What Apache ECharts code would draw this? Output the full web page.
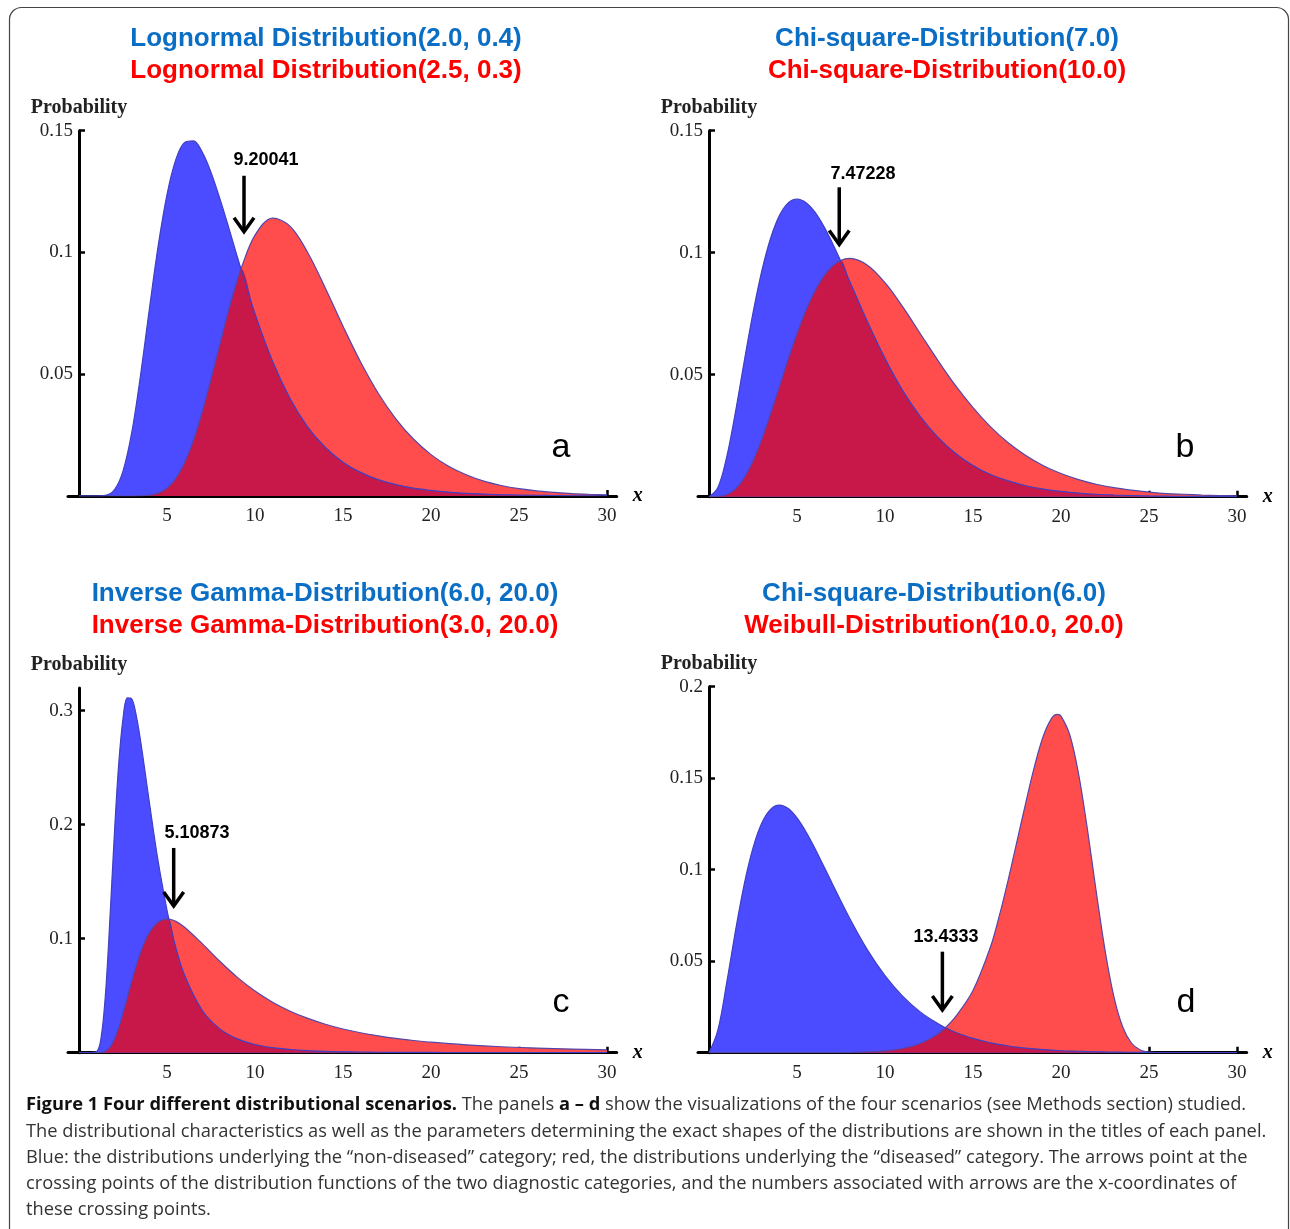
<!DOCTYPE html>
<html><head><meta charset="utf-8">
<script src="https://cdn.jsdelivr.net/npm/echarts@6/dist/echarts.min.js"></script>
<style>html,body{margin:0;padding:0;background:#fff}#c{width:1290px;height:1229px}</style>
</head><body><div id="c"></div>
<script>
// ---------- Panel a : Lognormal(2.0,0.4) vs Lognormal(2.5,0.3)
const xA = [0,0.5,1,1.5,2,2.5,3,3.5,4,4.5,5,5.5,6,6.5,7,7.5,8,8.5,9,9.2,10,11,12,13,14,15,16,17,18,19,20,21,22,23,24,25,26,27,28,29,30];
const blueA = [0,0,0.000004,0.00024,0.0024,0.0102,0.0262,0.0498,0.0769,0.1028,0.1238,0.1381,0.1452,0.1458,0.1412,0.1329,0.1222,0.1104,0.0981,0.0933,0.0749,0.0553,0.0399,0.0283,0.0199,0.0139,0.0097,0.0067,0.0047,0.0032,0.0023,0.0016,0.0011,0.0008,0.0005,0.0004,0.0003,0.0002,0.0001,0.0001,0.0001];
const redA = [0,0,0,0,0,0,0,0.0001,0.0003,0.0012,0.0032,0.0072,0.0137,0.0228,0.0345,0.0480,0.0622,0.0762,0.0888,0.0933,0.1071,0.1141,0.1107,0.0999,0.0853,0.0697,0.0550,0.0422,0.0317,0.0234,0.0170,0.0122,0.0087,0.0061,0.0043,0.0030,0.0021,0.0015,0.0010,0.0007,0.0005];
// ---------- Panel b : Chi-square(7) vs Chi-square(10)
const xB = [0,0.5,1,1.5,2,2.5,3,3.5,4,4.5,5,5.5,6,6.5,7,7.47,8,9,10,11,12,13,14,15,16,17,18,19,20,21,22,23,24,25,26,27,28,29,30];
const blueB = [0,0.0037,0.0161,0.0346,0.0554,0.0753,0.0925,0.1059,0.1152,0.1204,0.1220,0.1206,0.1168,0.1111,0.1041,0.0968,0.0882,0.0718,0.0567,0.0436,0.0329,0.0244,0.0178,0.0128,0.0091,0.0065,0.0045,0.0031,0.0022,0.0015,0.0010,0.0007,0.0005,0.0003,0.0002,0.0001,0.0001,0.0001,0];
const redB = [0,0.0001,0.0008,0.0031,0.0077,0.0146,0.0235,0.0340,0.0451,0.0563,0.0668,0.0762,0.0840,0.0901,0.0944,0.0968,0.0977,0.0949,0.0877,0.0779,0.0669,0.0559,0.0456,0.0365,0.0286,0.0221,0.0169,0.0127,0.0095,0.0070,0.0051,0.0037,0.0027,0.0019,0.0013,0.0010,0.0007,0.0005,0.0003];
// ---------- Panel c : Inverse Gamma(6,20) vs Inverse Gamma(3,20)
const xC = [0,0.5,1,1.25,1.5,1.75,2,2.25,2.5,2.75,3,3.25,3.5,3.75,4,4.5,5,5.11,5.5,6,7,8,9,10,11,12,13,14,15,16,17,18,19,20,22,24,26,28,30];
const blueC = [0,0,0.0011,0.0126,0.0505,0.1154,0.1891,0.2519,0.2931,0.3112,0.3103,0.2959,0.2734,0.2469,0.2193,0.1676,0.1250,0.1171,0.0923,0.0680,0.0372,0.0209,0.0121,0.0072,0.0044,0.0028,0.0018,0.0012,0.0008,0.0006,0.0004,0.0003,0.0002,0.0002,0.0001,0.0001,0,0,0];
const redC = [0,0,0,0.0002,0.0013,0.0046,0.0114,0.0215,0.0344,0.0485,0.0629,0.0762,0.0879,0.0977,0.1053,0.1146,0.1172,0.1171,0.1152,0.1101,0.0957,0.0802,0.0661,0.0541,0.0443,0.0364,0.0301,0.0250,0.0208,0.0175,0.0148,0.0125,0.0107,0.0092,0.0069,0.0052,0.0041,0.0032,0.0025];
// ---------- Panel d : Chi-square(6) vs Weibull(10,20)
const xD = [0,0.5,1,1.5,2,2.5,3,3.5,4,4.5,5,5.5,6,7,8,9,10,11,12,13,13.43,14,15,16,16.5,17,17.5,18,18.5,19,19.5,19.8,20,20.5,21,21.5,22,22.5,23,23.5,24,24.5,25,26,27,28,29,30];
const blueD = [0,0.0122,0.0379,0.0664,0.0920,0.1119,0.1255,0.1330,0.1353,0.1334,0.1283,0.1209,0.1120,0.0925,0.0733,0.0562,0.0421,0.0309,0.0223,0.0159,0.0137,0.0112,0.0078,0.0054,0.0045,0.0037,0.0030,0.0025,0.0021,0.0017,0.0014,0.0012,0.0011,0.0009,0.0008,0.0006,0.0005,0.0004,0.0003,0.0003,0.0002,0.0002,0.0001,0.0001,0.0001,0,0,0];
const redD = [0,0,0,0,0,0,0,0,0,0,0,0,0,0,0.0001,0.0004,0.0010,0.0023,0.0050,0.0102,0.0137,0.0196,0.0340,0.0580,0.0750,0.0945,0.1156,0.1367,0.1567,0.1732,0.1832,0.1849,0.1839,0.1736,0.1522,0.1221,0.0881,0.0561,0.0308,0.0142,0.0053,0.0015,0.0003,0,0,0,0,0];

// tick labels
const xTicks = [5,10,15,20,25,30];
const yTicksA = [0.05,0.1,0.15];
const yTicksB = [0.05,0.1,0.15];
const yTicksC = [0.1,0.2,0.3];
const yTicksD = [0.05,0.1,0.15,0.2];

// titles
const titlesBlue = ['Lognormal Distribution(2.0, 0.4)','Chi-square-Distribution(7.0)','Inverse Gamma-Distribution(6.0, 20.0)','Chi-square-Distribution(6.0)'];
const titlesRed = ['Lognormal Distribution(2.5, 0.3)','Chi-square-Distribution(10.0)','Inverse Gamma-Distribution(3.0, 20.0)','Weibull-Distribution(10.0, 20.0)'];
const panelLetters = ['a','b','c','d'];
// crossing labels and arrow positions [x, yTail, yTip, labelX, labelY]
const crossLabels = ['9.20041','7.47228','5.10873','13.4333'];
const arrowA = [9.375, 0.1315, 0.1085, 10.62, 0.138];
const arrowB = [7.40, 0.1268, 0.1034, 8.75, 0.1321];
const arrowC = [5.38, 0.1796, 0.1287, 6.70, 0.193];
const arrowD = [13.26, 0.0552, 0.0233, 13.47, 0.0634];

const BLUE = '#4b4bff', RED = '#ff4d4d', OVER = '#c8184a', EDGE = '#5646a6';
const panels = [
  {xs:xA, b:blueA, r:redA, ymax:0.15, yt:yTicksA, arrow:arrowA, grid:{left:68, top:130.7, width:548.7, height:365.3}, title:[326,39], letter:[561,447]},
  {xs:xB, b:blueB, r:redB, ymax:0.15, yt:yTicksB, arrow:arrowB, grid:{left:698, top:130.7, width:548.7, height:366}, title:[947,39], letter:[1185,447]},
  {xs:xC, b:blueC, r:redC, ymax:0.32, yt:yTicksC, arrow:arrowC, grid:{left:68, top:687.9, width:548.7, height:364.8}, title:[325,594], letter:[561,1002]},
  {xs:xD, b:blueD, r:redD, ymax:0.2, yt:yTicksD, arrow:arrowD, grid:{left:698, top:686.7, width:548.7, height:366}, title:[934,594], letter:[1186,1002]}
];

const serif = '"Liberation Serif","Times New Roman",serif';
const sans = '"Liberation Sans",Arial,sans-serif';
const grids = [], xAxes = [], yAxes = [], series = [], graphics = [];

panels.forEach((p, i) => {
  grids.push(p.grid);
  xAxes.push({
    gridIndex:i, type:'value', min:-0.625, max:30.55,
    axisLine:{show:true, onZero:true, lineStyle:{color:'#000', width:3}},
    axisTick:{show:true, inside:true, length:6, customValues:xTicks, lineStyle:{color:'#000', width:2.5}},
    axisLabel:{customValues:xTicks, fontFamily:serif, fontSize:19, color:'#222', margin:11},
    splitLine:{show:false},
    name:'x', nameLocation:'end', nameGap:16,
    nameTextStyle:{fontFamily:serif, fontStyle:'italic', fontWeight:'bold', fontSize:20, color:'#000', padding:[4,0,0,0]}
  });
  yAxes.push({
    gridIndex:i, type:'value', min:0, max:p.ymax,
    axisLine:{show:true, onZero:true, lineStyle:{color:'#000', width:3}},
    axisTick:{show:true, inside:true, length:6, customValues:p.yt, lineStyle:{color:'#000', width:2.5}},
    axisLabel:{customValues:p.yt, fontFamily:serif, fontSize:19, color:'#222', margin:-5},
    splitLine:{show:false},
    name:'Probability', nameLocation:'end', nameGap:13,
    nameTextStyle:{fontFamily:serif, fontWeight:'bold', fontSize:20, color:'#222', align:'center'}
  });
  const bd = p.xs.map((x,k)=>[x, p.b[k]]);
  const rd = p.xs.map((x,k)=>[x, p.r[k]]);
  const od = p.xs.map((x,k)=>[x, Math.min(p.b[k], p.r[k])]);
  const base = {type:'line', xAxisIndex:i, yAxisIndex:i, showSymbol:false, smooth:0.35, silent:true, animation:false};
  series.push(Object.assign({}, base, {name:'red'+i, data:rd, lineStyle:{width:0}, areaStyle:{color:RED, opacity:1}, z:2}));
  series.push(Object.assign({}, base, {name:'blue'+i, data:bd, lineStyle:{width:0}, areaStyle:{color:BLUE, opacity:1}, z:2}));
  series.push(Object.assign({}, base, {name:'over'+i, data:od, lineStyle:{width:0}, areaStyle:{color:OVER, opacity:1}, z:2}));
  series.push(Object.assign({}, base, {name:'redLine'+i, data:rd, lineStyle:{width:1.2, color:EDGE}, z:3}));
  series.push(Object.assign({}, base, {name:'blueLine'+i, data:bd, lineStyle:{width:1.2, color:'#4040c0'}, z:3}));
  const lab = crossLabels[i];
  series.push({
    type:'custom', xAxisIndex:i, yAxisIndex:i, silent:true, animation:false, z:5,
    data:[p.arrow],
    renderItem:function(params, api){
      const t = api.coord([api.value(0), api.value(1)]);
      const e = api.coord([api.value(0), api.value(2)]);
      const l = api.coord([api.value(3), api.value(4)]);
      return {type:'group', children:[
        {type:'line', shape:{x1:t[0], y1:t[1], x2:e[0], y2:e[1]-1}, style:{stroke:'#000', lineWidth:3.5}},
        {type:'polyline', shape:{points:[[e[0]-10, e[1]-14],[e[0], e[1]],[e[0]+10, e[1]-14]]}, style:{stroke:'#000', lineWidth:3.5, fill:null, lineJoin:'miter'}},
        {type:'text', style:{text:lab, x:l[0], y:l[1], align:'center', verticalAlign:'middle', font:'bold 18px ' + sans, fill:'#000'}}
      ]};
    }
  });
  graphics.push({type:'text', x:p.title[0], y:p.title[1], style:{text:titlesBlue[i], align:'center', verticalAlign:'middle', font:'bold 26px ' + sans, fill:'#0b6ec5'}});
  graphics.push({type:'text', x:p.title[0], y:p.title[1]+32, style:{text:titlesRed[i], align:'center', verticalAlign:'middle', font:'bold 26px ' + sans, fill:'#ff0000'}});
  graphics.push({type:'text', x:p.letter[0], y:p.letter[1]+1, style:{text:panelLetters[i], align:'center', verticalAlign:'middle', font:'34px ' + sans, fill:'#000'}});
});

// caption
const captionLines = [
  '{b|Figure 1 Four different distributional scenarios.}{n| The panels }{b|a – d}{n| show the visualizations of the four scenarios (see Methods section) studied.}',
  '{n|The distributional characteristics as well as the parameters determining the exact shapes of the distributions are shown in the titles of each panel.}',
  '{n|Blue: the distributions underlying the “non-diseased” category; red, the distributions underlying the “diseased” category. The arrows point at the}',
  '{n|crossing points of the distribution functions of the two diagnostic categories, and the numbers associated with arrows are the x-coordinates of}',
  '{n|these crossing points.}'
];
const capFont = '"Open Sans","Noto Sans",sans-serif';
captionLines.forEach((t, k) => {
  graphics.push({type:'text', x:26, y:1105 + k*26.3, style:{text:t, align:'left', verticalAlign:'middle',
    rich:{b:{fontFamily:capFont, fontWeight:'bold', fontSize:18.3, fill:'#111'}, n:{fontFamily:capFont, fontSize:18.3, fill:'#333'}}}});
});
graphics.push({type:'rect', shape:{x:9.5, y:7.5, width:1279, height:1260, r:12}, style:{fill:'none', stroke:'#444', lineWidth:1.2}, z:-10});

const chart = echarts.init(document.getElementById('c'), null, {renderer:'canvas'});
chart.setOption({
  animation:false,
  backgroundColor:'#fff',
  grid:grids, xAxis:xAxes, yAxis:yAxes, series:series,
  graphic:{elements:graphics}
});
</script></body></html>
